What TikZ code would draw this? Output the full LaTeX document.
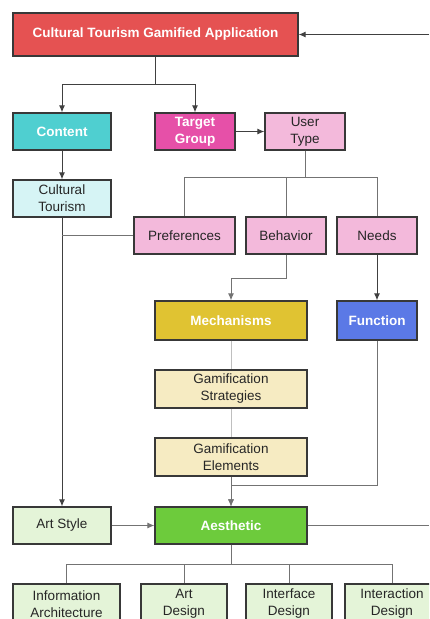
\documentclass[tikz,border=0pt]{standalone}
\usepackage{fontspec}
\setmainfont{Liberation Sans}
\usepackage{tikz}
\usetikzlibrary{arrows.meta}

\definecolor{appred}{HTML}{E55252}
\definecolor{contentcyan}{HTML}{4FCFD0}
\definecolor{targetpink}{HTML}{E650A8}
\definecolor{userpink}{HTML}{F3B9DB}
\definecolor{tourcyan}{HTML}{D6F4F5}
\definecolor{mechyellow}{HTML}{E0C332}
\definecolor{funcblue}{HTML}{5B79E6}
\definecolor{gamecream}{HTML}{F6EBC2}
\definecolor{artgreen}{HTML}{E4F4D8}
\definecolor{aestgreen}{HTML}{6DCB3C}
\definecolor{boxline}{HTML}{383838}

\begin{document}
\begin{tikzpicture}[x=1pt, y=-1pt, >={Latex[length=7pt,width=6pt]},
  box/.style={draw=boxline, line width=1.3pt, align=center, inner sep=0pt,
    font=\fontsize{13.5}{17}\selectfont, text=black!85},
  hibox/.style={box, text=white, font=\fontsize{13.5}{17}\selectfont\bfseries},
  link/.style={draw=black!75, line width=1pt},
  thin link/.style={draw=black!55, line width=0.9pt},
  pale link/.style={draw=black!25, line width=0.9pt}]
% Canvas
\clip (0,0) rectangle (429,619);
\fill[white] (0,0) rectangle (429,619);

% Drawing top level
\node[hibox, fill=appred, minimum width=285pt, minimum height=43pt] (app) at (155.5,34.5) {Cultural Tourism Gamified Application};
\node[hibox, fill=contentcyan, minimum width=98pt, minimum height=37pt] (content) at (62,131.5) {Content};
\node[hibox, fill=targetpink, minimum width=80pt, minimum height=37pt] (target) at (195,131.5) {Target\\Group};
\node[box, fill=userpink, minimum width=80pt, minimum height=37pt] (usertype) at (305,131.5) {User\\Type};
\node[box, fill=tourcyan, minimum width=98pt, minimum height=37pt] (tourism) at (62,198.5) {Cultural\\Tourism};

% Drawing user nodes
\node[box, fill=userpink, minimum width=101pt, minimum height=37pt] (prefs) at (184.5,235.5) {Preferences};
\node[box, fill=userpink, minimum width=80pt, minimum height=37pt] (behavior) at (286,235.5) {Behavior};
\node[box, fill=userpink, minimum width=80pt, minimum height=37pt] (needs) at (377,235.5) {Needs};

% Drawing gamification nodes
\node[hibox, fill=mechyellow, minimum width=152pt, minimum height=39pt] (mech) at (231,320.5) {Mechanisms};
\node[hibox, fill=funcblue, minimum width=80pt, minimum height=39pt] (func) at (377,320.5) {Function};
\node[box, fill=gamecream, minimum width=152pt, minimum height=38pt] (strategies) at (231,389) {Gamification\\Strategies};
\node[box, fill=gamecream, minimum width=152pt, minimum height=38pt] (elements) at (231,457) {Gamification\\Elements};

% Drawing aesthetic nodes
\node[box, fill=artgreen, minimum width=98pt, minimum height=37pt] (artstyle) at (62,525.5) {Art Style};
\node[hibox, fill=aestgreen, minimum width=152pt, minimum height=37pt] (aesth) at (231,525.5) {Aesthetic};
\node[box, fill=artgreen, minimum width=107pt, minimum height=40pt] (infoarch) at (66.5,604) {Information\\Architecture};
\node[box, fill=artgreen, minimum width=86pt, minimum height=40pt] (artdesign) at (184,604) {Art\\Design};
\node[box, fill=artgreen, minimum width=86pt, minimum height=40pt] (interface) at (289,604) {Interface\\Design};
\node[box, fill=artgreen, minimum width=94pt, minimum height=40pt] (interaction) at (392,604) {Interaction\\Design};

% Loose ends at the right edge
\coordinate (backin) at (429,34.5);
\coordinate (backout) at (429,525.5);

% Drawing connectors
\draw[link, ->] (backin) -- (app.east);
\draw[link, ->] (app.south) -- ++(0,28) -| (content.north);
\draw[link, ->] (app.south) -- ++(0,28) -| (target.north);
\draw[link, ->] (target.east) -- (usertype.west);
\draw[link, ->] (content.south) -- (tourism.north);

\draw[thin link] (usertype.south) -- ++(0,27) -| (prefs.north);
\draw[thin link] (usertype.south) -- ++(0,27) -| (behavior.north);
\draw[thin link] (usertype.south) -- ++(0,27) -| (needs.north);

\draw[link, ->] (tourism.south) -- (artstyle.north);
\draw[thin link] (prefs.west) -- (prefs.west -| tourism.south);
\draw[thin link, ->] (behavior.south) -- ++(0,24) -| (mech.north);
\draw[link, ->] (needs.south) -- (func.north);

\draw[pale link] (mech.south) -- (strategies.north);
\draw[pale link] (strategies.south) -- (elements.north);
\draw[thin link, ->] (elements.south) -- (aesth.north);
\draw[thin link, ->] (func.south) -- ++(0,145) -| (aesth.north);

\draw[thin link, ->] (artstyle.east) -- (aesth.west);
\draw[thin link] (aesth.east) -- (backout);

\draw[thin link] (aesth.south) -- ++(0,20) -| (infoarch.north);
\draw[thin link] (aesth.south) -- ++(0,20) -| (artdesign.north);
\draw[thin link] (aesth.south) -- ++(0,20) -| (interface.north);
\draw[thin link] (aesth.south) -- ++(0,20) -| (interaction.north);
\end{tikzpicture}
\end{document}
